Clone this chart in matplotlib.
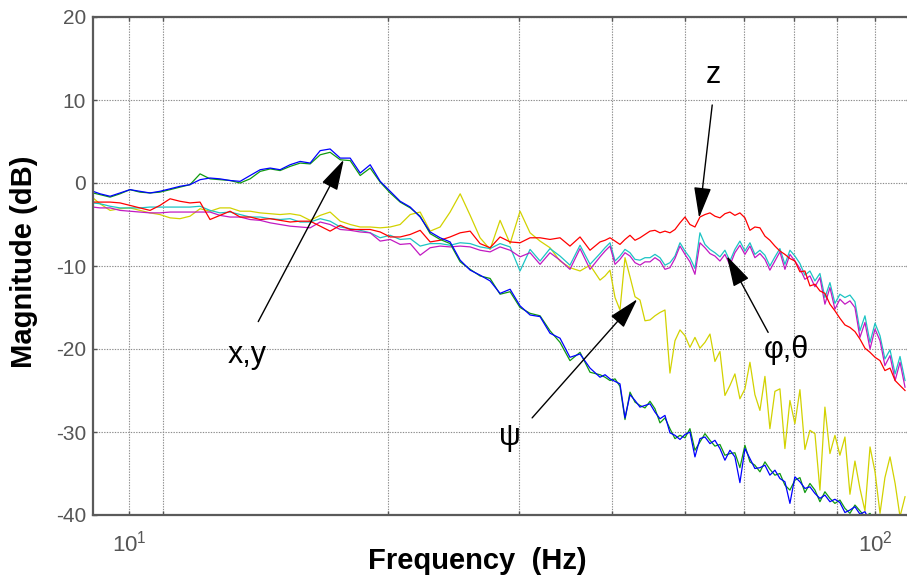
import matplotlib
matplotlib.use("Agg")
import matplotlib.pyplot as plt
from matplotlib.ticker import FixedLocator, FixedFormatter, NullFormatter

plt.rcParams["font.family"] = ["Liberation Sans", "DejaVu Sans"]
plt.rcParams["mathtext.fontset"] = "custom"
plt.rcParams["mathtext.rm"] = "Liberation Sans"
plt.rcParams["axes.unicode_minus"] = False

# frequency grid (Hz) shared by every curve
FREQ_HZ = [
    8.947, 9.143, 9.431, 9.726, 10.03, 10.34, 10.67, 11.00, 11.35, 11.70, 12.07, 12.45,
    12.84, 13.24, 13.66, 14.09, 14.53, 14.99, 15.46, 15.94, 16.44, 16.96, 17.49, 18.04,
    18.60, 19.19, 19.79, 20.41, 21.05, 21.71, 22.39, 23.09, 23.82, 24.56, 25.33, 26.12,
    26.94, 27.79, 28.66, 29.55, 30.48, 31.43, 32.42, 33.43, 34.48, 35.56, 36.67, 37.82,
    39.00, 40.23, 41.49, 42.79,
    43.46, 44.13, 44.82, 45.51, 46.22, 46.94, 47.67, 48.41, 49.16, 49.93,
    50.70, 51.49, 52.29, 53.10, 53.93, 54.77, 55.62, 56.48, 57.36, 58.25,
    59.16, 60.08, 61.01, 61.96, 62.92, 63.90, 64.89, 65.90, 66.93, 67.97,
    69.02, 70.10, 71.19, 72.29, 73.42, 74.56, 75.72, 76.90, 78.09, 79.31,
    80.54, 81.80, 83.07, 84.36, 85.67, 87.01, 88.36, 89.73, 91.13, 92.55,
    93.99, 95.45, 96.94, 98.47, 100.0, 101.55, 103.1, 104.74, 106.4, 108.02,
    109.7,
]

# x axis response (blue) and y axis response (green), dB
MAG_X = [
    -1.0, -1.3, -1.6, -1.2, -0.8, -1.0, -1.2, -1.0, -0.7, -0.4, -0.2, 0.4,
    0.6, 0.5, 0.3, 0.2, 0.9, 1.6, 1.8, 1.6, 2.2, 2.6, 2.4, 3.9,
    4.1, 3.0, 3.0, 1.2, 2.2, 0.2, -1.0, -2.2, -2.9, -4.1, -5.9, -6.6,
    -7.1, -9.3, -10.5, -11.1, -11.8, -13.3, -12.8, -14.8, -15.9, -16.1, -18.1, -18.7,
    -21.0, -20.6, -22.3, -23.4,
    -23.1, -23.6, -23.9, -24.2, -28.3, -25.5, -26.2, -27.0, -26.8, -26.6,
    -27.6, -28.4, -28.0, -30.1, -30.4, -30.9, -30.3, -30.0, -33.0, -30.8,
    -30.6, -31.4, -31.0, -32.0, -33.4, -32.2, -33.0, -36.1, -32.0, -33.2,
    -34.4, -34.3, -34.0, -35.2, -34.6, -35.6, -36.0, -38.6, -35.4, -36.0,
    -36.8, -36.6, -37.4, -38.0, -37.6, -38.4, -38.1, -38.5, -39.7, -39.4,
    -39.0, -39.9, -39.6, -40.8, -41.5, -42.0, -42.5, -43.0, -43.0, -44.0,
    -44.0,
]
MAG_Y = [
    -1.2, -1.4, -1.7, -1.3, -0.8, -1.1, -1.2, -1.1, -0.8, -0.5, -0.2, 1.1,
    0.5, 0.4, 0.3, 0.0, 0.5, 1.4, 1.7, 1.5, 2.0, 2.4, 2.3, 3.4,
    3.7, 2.8, 2.7, 0.9, 1.8, 0.1, -1.2, -2.3, -3.0, -4.0, -6.1, -6.8,
    -7.3, -9.5, -10.4, -11.2, -11.5, -13.4, -13.1, -15.0, -15.7, -16.0, -17.8, -19.2,
    -21.4, -20.4, -22.8, -23.1,
    -23.4, -23.8, -23.6, -24.5, -28.5, -25.2, -26.4, -26.8, -27.1, -26.3,
    -27.2, -28.9, -28.3, -29.6, -30.8, -30.4, -30.7, -29.6, -32.2, -31.2,
    -30.2, -31.0, -31.7, -31.5, -32.8, -32.6, -32.5, -34.3, -31.6, -33.6,
    -34.0, -34.8, -33.6, -34.5, -35.2, -35.0, -36.4, -37.0, -35.8, -35.5,
    -37.3, -36.2, -37.0, -38.4, -37.2, -38.0, -38.6, -38.2, -39.2, -39.8,
    -38.8, -39.5, -40.2, -39.8, -41.0, -41.5, -42.0, -42.5, -43.0, -43.0,
    -44.0,
]
# z axis response (red)
MAG_Z = [
    -2.3, -2.3, -2.3, -2.4, -2.7, -3.0, -3.3, -2.7, -1.9, -2.2, -2.4, -2.3,
    -4.4, -3.9, -3.4, -4.1, -4.1, -4.4, -4.3, -4.5, -4.7, -4.6, -4.6, -5.2,
    -5.8, -5.1, -5.6, -5.6, -5.6, -5.9, -6.5, -6.5, -6.2, -5.7, -7.1, -6.9,
    -6.5, -6.0, -5.8, -7.3, -7.8, -6.5, -7.1, -7.2, -6.6, -6.6, -6.8, -6.6,
    -7.6, -6.5, -8.1, -7.1,
    -6.9, -6.6, -7.0, -7.4, -6.8, -6.3, -6.9, -6.6, -6.2, -5.8,
    -5.7, -6.0, -5.8, -6.0, -5.6, -4.8, -4.1, -5.0, -5.3, -4.1,
    -3.8, -3.6, -4.0, -4.2, -3.7, -3.5, -3.9, -3.6, -4.2, -5.7,
    -5.3, -5.4, -6.4, -6.9, -7.6, -8.2, -8.6, -9.1, -9.4, -10.7,
    -10.6, -12.4, -12.2, -13.0, -13.3, -14.6, -15.4, -16.3, -17.1, -17.4,
    -17.9, -18.8, -19.9, -20.4, -21.0, -21.4, -22.6, -22.3, -23.8, -24.4,
    -25.0,
]
# roll (cyan) and pitch (magenta) responses
MAG_PHI = [
    -2.4, -2.5, -2.8, -3.0, -3.0, -3.0, -2.9, -2.9, -2.9, -2.9, -2.9, -2.8,
    -3.3, -3.6, -3.5, -3.8, -4.1, -4.1, -4.3, -4.4, -4.3, -4.7, -4.7, -4.3,
    -4.6, -5.3, -5.5, -5.7, -6.0, -6.6, -6.3, -6.8, -6.7, -7.6, -7.3, -7.3,
    -7.5, -7.2, -7.3, -7.7, -7.9, -7.3, -7.7, -10.6, -8.0, -9.4, -7.9, -8.8,
    -9.9, -7.5, -9.8, -8.5,
    -7.8, -7.2, -9.4, -8.8, -8.0, -8.4, -9.2, -9.3, -9.0, -9.0,
    -8.6, -9.0, -9.9, -9.6, -8.8, -7.2, -8.2, -9.0, -10.3, -6.0,
    -7.4, -8.0, -8.4, -8.9, -8.1, -9.4, -8.0, -7.0, -8.2, -7.2,
    -8.6, -8.1, -8.7, -10.0, -8.9, -7.9, -9.8, -8.1, -8.8, -9.7,
    -11.1, -10.6, -11.8, -10.9, -13.8, -12.0, -14.5, -13.4, -13.8, -13.5,
    -14.3, -17.8, -16.0, -19.2, -16.9, -18.4, -21.2, -20.1, -23.0, -20.9,
    -23.8,
]
MAG_THETA = [
    -2.9, -3.0, -3.0, -3.3, -3.4, -3.5, -3.6, -3.6, -3.5, -3.5, -3.5, -3.5,
    -3.5, -3.9, -4.1, -4.1, -4.4, -4.5, -4.8, -5.0, -5.2, -5.3, -5.4, -4.7,
    -5.0, -5.6, -5.7, -5.9, -6.0, -7.0, -6.8, -7.4, -7.3, -8.7, -7.8, -7.6,
    -7.7, -7.6, -7.7, -8.1, -8.3, -7.7, -8.1, -8.9, -8.4, -9.8, -8.4, -9.3,
    -10.4, -7.9, -10.4, -8.9,
    -8.2, -7.6, -9.8, -9.2, -8.4, -8.8, -9.6, -9.9, -9.5, -9.5,
    -9.0, -9.4, -10.4, -10.2, -9.1, -7.6, -8.6, -9.5, -11.0, -7.2,
    -7.8, -8.5, -8.8, -9.4, -8.6, -9.9, -8.4, -7.5, -8.6, -7.6,
    -9.0, -8.5, -9.2, -10.5, -9.4, -8.3, -10.4, -8.6, -9.4, -10.3,
    -11.6, -11.2, -12.5, -11.4, -14.6, -12.6, -15.2, -14.0, -14.6, -14.2,
    -15.0, -18.6, -16.8, -20.0, -17.6, -19.0, -22.0, -20.8, -23.8, -21.6,
    -24.6,
]
# yaw response (yellow)
MAG_PSI = [
    -1.8, -2.5, -3.3, -3.1, -3.0, -3.3, -3.6, -3.8, -4.2, -4.3, -4.0, -3.1,
    -3.4, -3.0, -3.0, -3.4, -3.4, -3.6, -3.7, -3.8, -3.7, -3.9, -4.5, -3.9,
    -3.5, -4.6, -5.0, -5.3, -5.3, -5.4, -5.3, -5.0, -3.8, -3.5, -5.8, -5.3,
    -3.5, -1.3, -3.9, -6.6, -8.0, -4.5, -7.3, -3.4, -6.0, -7.0, -7.8, -9.4,
    -10.2, -10.6, -9.9, -11.7,
    -11.2, -10.5, -13.8, -15.3, -9.0, -11.3, -13.7, -14.1, -16.6, -16.5,
    -16.0, -15.6, -15.3, -22.9, -19.0, -17.7, -18.4, -19.8, -18.6, -19.9,
    -19.2, -18.2, -21.5, -20.3, -25.6, -24.4, -23.0, -26.0, -24.8, -21.6,
    -25.5, -27.4, -23.3, -29.6, -25.1, -24.8, -32.0, -26.2, -29.0, -24.9,
    -32.1, -29.8, -30.2, -37.0, -27.0, -32.6, -30.4, -32.8, -30.6, -37.5,
    -33.5, -36.8, -39.5, -31.8, -34.8, -39.8, -35.5, -33.0, -36.2, -40.2,
    -37.8,
]

SERIES = [
    (MAG_PSI, "#d2d200"),
    (MAG_PHI, "#1cc4c4"),
    (MAG_THETA, "#c21ac2"),
    (MAG_Z, "#ff0000"),
    (MAG_Y, "#109a10"),
    (MAG_X, "#0000ff"),
]

# labels: text, text position (Hz, dB), arrow tail, arrow tip
LABELS = [
    ("z", (60.8, 13.0), (60.5, 9.4), (58.1, -4.2)),
    ("x,y", (14.4, -20.7), (14.9, -16.7), (19.4, 2.8)),
    ("ψ", (32.4, -30.6), (34.7, -28.3), (48.0, -14.0)),
    ("φ,θ", (76.0, -20.1), (71.9, -18.0), (63.3, -8.8)),
]

YTICKS = [-40, -30, -20, -10, 0, 10, 20]
GRID_HZ = [10.0, 11.11, 22.22, 33.33, 44.44, 55.56, 66.67, 77.78, 88.89, 100.0]

fig = plt.figure(figsize=(9.07, 5.75), dpi=100)
ax = fig.add_axes([93 / 907, 60 / 575, 817 / 907, 498 / 575])

for mag, col in SERIES:
    ax.plot(FREQ_HZ, mag, color=col, lw=0.9)

ax.set_xscale("log")
ax.set_xlim(8.947, 111.4)
ax.set_ylim(-40, 20)

ax.xaxis.set_major_locator(FixedLocator([10, 100]))
ax.xaxis.set_major_formatter(FixedFormatter([r"$10^{1}$", r"$10^{2}$"]))
ax.xaxis.set_minor_locator(FixedLocator(GRID_HZ[1:-1]))
ax.xaxis.set_minor_formatter(NullFormatter())
ax.set_yticks(YTICKS)

grid_kw = dict(color="#8c8c8c", linestyle=(0, (1.2, 1.2)), linewidth=0.8)
ax.grid(True, which="major", **grid_kw)
ax.xaxis.grid(True, which="minor", **grid_kw)

ax.tick_params(which="both", direction="in", length=3, width=1,
               color="#555555", top=True, right=True)
ax.tick_params(axis="y", labelsize=15, labelcolor="#555555", pad=5)
ax.tick_params(axis="x", labelsize=16, labelcolor="#555555", pad=11)
for sp in ax.spines.values():
    sp.set_color("#5a5a5a")
    sp.set_linewidth(1.6)

for text, xy_text, tail, tip in LABELS:
    ax.text(*xy_text, text, fontsize=22, ha="center", va="center", color="black")
    ax.annotate("", xy=tip, xytext=tail,
                arrowprops=dict(arrowstyle="-|>,head_length=1.6,head_width=0.45",
                                color="black", lw=1.0, mutation_scale=12,
                                shrinkA=0, shrinkB=0))

fig.text(477 / 907, 1 - 569 / 575, "Frequency  (Hz)", fontsize=21,
         fontweight="bold", ha="center", va="baseline")
fig.text(24 / 907, 1 - 262 / 575, "Magnitude (dB)", fontsize=21,
         fontweight="bold", ha="center", va="center", rotation=90)

fig.savefig("out.png", dpi=100)
